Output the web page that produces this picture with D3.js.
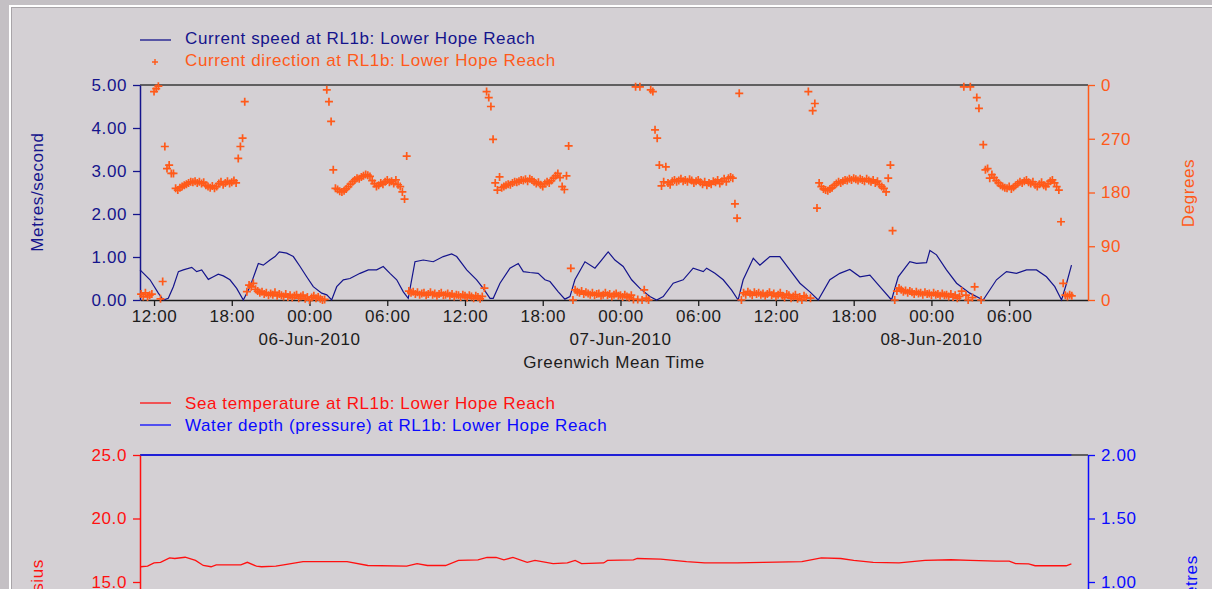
<!DOCTYPE html>
<html>
<head>
<meta charset="utf-8">
<script src="https://cdn.jsdelivr.net/npm/d3@7"></script>
<style>
body { margin: 0; background: #c4c0c4; }
svg text { font-family: "Liberation Sans", Arial, sans-serif; font-size: 17px; letter-spacing: 0.6px; }
</style>
</head>
<body>
<svg id="chart" width="1212" height="589"></svg>
<script>
// all times are hours after 05-Jun-2010 12:00 GMT
var speedHours = [-1.08, -0.31, 0.33, 0.72, 1.10, 1.49, 1.88, 2.26, 2.91, 3.29,
	3.68, 4.19, 4.58, 4.96, 5.35, 5.86, 6.38, 6.89, 7.41, 8.05,
	8.43, 8.95, 9.34, 9.67, 10.24, 10.75, 11.27, 11.78, 12.29, 12.94,
	13.33, 13.71, 14.10, 14.61, 15.12, 15.90, 16.54, 17.18, 17.69, 18.21,
	18.73, 19.24, 19.62, 20.14, 20.78, 21.55, 22.32, 22.97, 23.36, 24.13,
	24.90, 25.41, 25.93, 26.18, 26.70, 27.47, 28.11, 28.50, 29.01, 29.65,
	30.17, 30.56, 31.20, 31.71, 32.10, 32.48, 33.26, 34.03, 34.54, 35.05,
	35.57, 36.21, 36.86, 37.50, 38.27, 38.79, 39.30, 40.07, 40.84, 41.61,
	42.39, 42.65, 43.29, 43.93, 44.58, 45.08, 45.47, 46.25, 46.76, 47.53,
	48.30, 49.07, 49.85, 50.62, 51.26, 52.16, 52.93, 53.70, 54.48, 55.25,
	56.02, 56.92, 57.44, 58.33, 58.85, 59.62, 59.88, 60.39, 61.16, 61.94,
	62.96, 63.99, 65.02, 65.79, 66.56, 67.34, 68.11, 68.88, 69.52, 70.04,
	70.43, 70.81];
var speedValues = [0.70, 0.47, 0.16, 0.00, 0.04, 0.31, 0.66, 0.70, 0.76, 0.66,
	0.70, 0.48, 0.54, 0.60, 0.56, 0.47, 0.27, 0.00, 0.31, 0.85,
	0.81, 0.93, 1.01, 1.12, 1.09, 1.01, 0.78, 0.54, 0.31, 0.16,
	0.12, 0.00, 0.31, 0.47, 0.50, 0.62, 0.70, 0.70, 0.78, 0.62,
	0.47, 0.19, 0.04, 0.89, 0.93, 0.89, 1.01, 1.07, 1.01, 0.70,
	0.47, 0.27, 0.04, 0.04, 0.39, 0.74, 0.85, 0.66, 0.64, 0.62,
	0.47, 0.43, 0.19, 0.02, 0.08, 0.47, 0.89, 0.74, 0.93, 1.12,
	0.93, 0.78, 0.47, 0.27, 0.08, 0.00, 0.08, 0.39, 0.47, 0.74,
	0.66, 0.74, 0.62, 0.47, 0.23, 0.00, 0.47, 0.97, 0.81, 1.01,
	1.01, 0.70, 0.39, 0.19, 0.00, 0.47, 0.62, 0.71, 0.54, 0.58,
	0.31, 0.00, 0.54, 0.89, 0.85, 0.87, 1.15, 1.05, 0.70, 0.39,
	0.16, 0.00, 0.47, 0.66, 0.62, 0.70, 0.70, 0.54, 0.31, 0.00,
	0.39, 0.81];

// direction: one reading every 10 minutes from 05-Jun-2010 11:00 GMT
var dirStartHour = -1;
var dirStepMinutes = 10;
var dirValues = [
	10, 6, 12, 5, 8, 10, 349, 354, 358, 2,
	31, 257, 220, 226, 212, 212,
	187, 184, 188, 190, 192, 194, 196, 198, 197, 199, 196, 198, 195, 197, 192,
	190, 188, 191, 187, 190, 195, 198, 193, 196, 199, 195, 197, 200, 196,
	237, 257, 271, 332,
	14, 25, 22, 28, 18, 15, 12, 14, 10, 12, 8, 11, 9, 13, 7, 10, 8, 6, 10,
	5, 8, 4, 7, 9, 3, 6, 8, 2, 5, 0, 4, 7, 3, 5, 2, 0, 1,
	352, 332, 299, 218,
	187, 185, 182, 181, 183, 186, 190, 194, 198, 201, 204, 203, 206, 208, 210, 209, 207,
	200, 195, 190, 192, 196, 194, 198, 201, 197, 199, 195, 201, 193, 190, 181, 169,
	241,
	15, 12, 14, 10, 13, 9, 11, 12, 8, 10, 13, 9, 11, 7, 10, 12, 8, 9,
	11, 7, 10, 6, 9, 8, 5, 9, 7, 4, 8, 6, 3, 7, 5, 2, 6, 20,
	349, 339, 324, 269,
	196, 184, 206, 188, 190, 192, 194, 193, 196, 198, 197, 199, 201, 200, 202, 199, 203,
	201, 198, 195, 197, 193, 190, 195, 198, 196, 200, 204, 208, 212, 205, 190, 185, 208,
	258, 53, 0,
	17, 14, 12, 15, 10, 13, 11, 9, 12, 8, 10, 11, 7, 9, 12, 8, 10, 6, 9, 11, 7, 8, 5, 9, 6, 4, 8, 1,
	357, 1, 357, 0, 17, 3, 0, 352, 349, 285, 271, 226, 191, 198, 223,
	196, 193, 199, 201, 198, 200, 203, 199, 201, 198, 202, 200, 196, 199, 201, 197,
	194, 198, 192, 196, 194, 199, 197, 201, 195, 199, 203, 198, 204, 206, 204,
	161, 137, 346,
	0, 12, 9, 14, 11, 8, 13, 10, 12, 9, 11, 7, 10, 13, 8, 11,
	6, 9, 12, 7, 4, 10, 8, 3, 6, 9, 2, 5, 0, 7, 4,
	349, 3, 317, 329, 154,
	196, 190, 186, 184, 183, 186, 188, 192, 195, 198, 196, 199, 201, 200, 203, 201, 204,
	202, 200, 203, 201, 199, 203, 200, 198, 201, 196, 199, 193, 190, 187, 181, 204,
	226, 116,
	0, 15, 20, 17, 14, 16, 12, 15, 13, 10, 14, 11, 12, 9, 13, 10,
	11, 8, 12, 9, 10, 7, 11, 8, 9, 6, 10, 5, 8, 3, 6, 15,
	357, 8, 0, 357, 4, 22, 339, 321, 0, 260, 218, 220, 204,
	210, 205, 200, 196, 192, 190, 188, 187, 190, 186, 189, 192, 195, 198, 196, 199,
	201, 197, 195, 198, 193, 190, 194, 197, 192, 190, 195, 199, 201, 196, 190, 184,
	131, 28, 8, 6, 9, 7
];

var tempHours = [-1.05, -0.5, 0.0, 0.5, 1.2, 1.6, 2.4, 3.2, 3.8, 4.4,
	4.8, 6.7, 7.2, 7.9, 8.3, 9.4, 10.0, 11.5, 14.9, 16.5,
	19.5, 20.3, 21.1, 22.5, 23.5, 25.0, 25.7, 26.4, 27.0, 27.7,
	28.8, 29.4, 30.8, 31.9, 32.5, 33.0, 34.7, 35.0, 37.0, 37.3,
	39.1, 41.1, 42.5, 45.0, 47.0, 50.0, 51.5, 53.0, 54.0, 55.5,
	57.5, 59.5, 61.5, 63.0, 65.0, 66.0, 66.5, 67.5, 68.0, 70.4, 70.8];
var tempValues = [16.2, 16.25, 16.5, 16.55, 16.9, 16.85, 16.95, 16.7, 16.3, 16.2,
	16.35, 16.35, 16.55, 16.25, 16.2, 16.25, 16.35, 16.6, 16.6, 16.3,
	16.25, 16.45, 16.3, 16.3, 16.7, 16.75, 16.93, 16.93, 16.75, 16.93,
	16.55, 16.7, 16.45, 16.5, 16.7, 16.45, 16.5, 16.7, 16.75, 16.85,
	16.8, 16.6, 16.5, 16.5, 16.55, 16.6, 16.9, 16.85, 16.7, 16.55,
	16.5, 16.7, 16.75, 16.7, 16.65, 16.65, 16.45, 16.42, 16.28, 16.28, 16.42];

// depth sits at (or above) the top of its axis for the whole period
var depthHours = [-1.05, 70.8];
var depthValues = [2.0, 2.0];

var speedTicks = [0, 1, 2, 3, 4, 5];
var dirTicks = [0, 90, 180, 270, 360];
var tempTicks = [0, 5, 10, 15, 20, 25];
var depthTicks = [0, 0.5, 1, 1.5, 2];

var navy = '#14148c', orange = '#ff5a1a', red = '#ff1010', blue = '#0a0aff', ink = '#1c1c1c';

var base = Date.UTC(2010, 5, 5, 12);
function hourDate(h) { return new Date(base + h * 3600000); }

var svg = d3.select('#chart');

// window frame
svg.append('rect').attr('x', 0).attr('y', 0).attr('width', 1212).attr('height', 589).attr('fill', '#c4c0c4');
svg.append('rect').attr('x', 9).attr('y', 5).attr('width', 1210).attr('height', 600).attr('fill', '#ffffff');
svg.append('rect').attr('x', 11).attr('y', 7).attr('width', 1210).attr('height', 600).attr('fill', '#a8a4a8');
svg.append('rect').attr('x', 12).attr('y', 8).attr('width', 1210).attr('height', 600).attr('fill', '#d4d0d4');

var tStart = Date.UTC(2010, 5, 5, 10, 55), tEnd = Date.UTC(2010, 5, 8, 12, 5);
var x = d3.scaleUtc().domain([tStart, tEnd]).range([140, 1088]);

var ySpeed = d3.scaleLinear().domain([0, 5]).range([300, 85]);
var yDir = d3.scaleLinear().domain([0, 360]).range([300, 85]);
var yTemp = d3.scaleLinear().domain([0, 25]).range([772.5, 455]);
var yDepth = d3.scaleLinear().domain([-0.5, 2]).range([772.5, 455]);

function colourAxis(g, c, textColour) {
	g.select('.domain').attr('stroke', c).attr('stroke-width', 1.5);
	g.selectAll('.tick line').attr('stroke', c).attr('stroke-width', 1.3);
	g.selectAll('.tick text').attr('fill', textColour || c).style('font-size', '17px');
	g.attr('font-family', null).attr('font-size', null);
}

// ---------- top chart ----------
svg.append('line').attr('x1', 140).attr('x2', 1088).attr('y1', 85).attr('y2', 85)
	.attr('stroke', '#3a3a3a').attr('stroke-width', 1.5);

// 6-hourly ticks, the closing 12:00 at the right edge is not labelled
var hourTicks = d3.utcHour.every(6).range(new Date(tStart), new Date(Date.UTC(2010, 5, 8, 11)));

svg.append('g').attr('transform', 'translate(0,300)')
	.call(d3.axisBottom(x).tickValues(hourTicks).tickFormat(d3.utcFormat('%H:%M'))
		.tickSize(6).tickSizeOuter(0).tickPadding(4))
	.call(function(g) { colourAxis(g, ink); });

svg.append('g').selectAll('text')
	.data(d3.utcDay.range(new Date(tStart), new Date(tEnd)))
	.enter().append('text')
	.attr('x', function(d) { return x(d); })
	.attr('y', 345)
	.attr('text-anchor', 'middle')
	.attr('fill', ink)
	.text(d3.utcFormat('%d-%b-%Y'));

svg.append('text').attr('x', 614).attr('y', 368).attr('text-anchor', 'middle')
	.attr('fill', ink).text('Greenwich Mean Time');

svg.append('g').attr('transform', 'translate(140,0)')
	.call(d3.axisLeft(ySpeed).tickValues(speedTicks).tickFormat(d3.format('.2f'))
		.tickSize(7).tickSizeOuter(0).tickPadding(6))
	.call(function(g) { colourAxis(g, navy); });

svg.append('g').attr('transform', 'translate(1088,0)')
	.call(d3.axisRight(yDir).tickValues(dirTicks).tickFormat(function(d) { return d % 360; })
		.tickSize(7).tickSizeOuter(0).tickPadding(6))
	.call(function(g) { colourAxis(g, orange); });

svg.append('text').attr('transform', 'translate(43,192) rotate(-90)')
	.attr('text-anchor', 'middle').attr('fill', navy).text('Metres/second');
svg.append('text').attr('transform', 'translate(1194,193) rotate(-90)')
	.attr('text-anchor', 'middle').attr('fill', orange).text('Degrees');

var speedLine = d3.line()
	.x(function(d) { return x(hourDate(d[0])); })
	.y(function(d) { return ySpeed(d[1]); });

svg.append('path').datum(d3.zip(speedHours, speedValues))
	.attr('d', speedLine)
	.attr('fill', 'none').attr('stroke', navy).attr('stroke-width', 1.2);

svg.append('g').selectAll('path')
	.data(dirValues)
	.enter().append('path')
	.attr('transform', function(d, i) {
		var t = hourDate(dirStartHour + i * dirStepMinutes / 60);
		return 'translate(' + x(t) + ',' + yDir(d) + ')';
	})
	.attr('d', 'M-4,0H4M0,-4V4')
	.attr('stroke', orange).attr('stroke-width', 1.7).attr('fill', 'none');

// legend
svg.append('line').attr('x1', 140).attr('x2', 171).attr('y1', 40).attr('y2', 40)
	.attr('stroke', navy).attr('stroke-width', 1.3);
svg.append('text').attr('x', 185).attr('y', 44).attr('fill', navy)
	.text('Current speed at RL1b: Lower Hope Reach');
svg.append('path').attr('transform', 'translate(155,62)')
	.attr('d', 'M-3,0H3M0,-3V3').attr('stroke', orange).attr('stroke-width', 1.4);
svg.append('text').attr('x', 185).attr('y', 66).attr('fill', orange)
	.text('Current direction at RL1b: Lower Hope Reach');

// ---------- bottom chart ----------
svg.append('line').attr('x1', 140).attr('x2', 1088).attr('y1', 455).attr('y2', 455)
	.attr('stroke', '#3a3a3a').attr('stroke-width', 1.5);

svg.append('g').attr('transform', 'translate(140,0)')
	.call(d3.axisLeft(yTemp).tickValues(tempTicks).tickFormat(d3.format('.1f'))
		.tickSize(7).tickSizeOuter(0).tickPadding(6))
	.call(function(g) { colourAxis(g, red); });

svg.append('g').attr('transform', 'translate(1088,0)')
	.call(d3.axisRight(yDepth).tickValues(depthTicks).tickFormat(d3.format('.2f'))
		.tickSize(7).tickSizeOuter(0).tickPadding(6))
	.call(function(g) { colourAxis(g, blue); });

svg.append('text').attr('transform', 'translate(43,626) rotate(-90)')
	.attr('text-anchor', 'middle').attr('fill', red).text('Degrees Celsius');
svg.append('text').attr('transform', 'translate(1197,583) rotate(-90)')
	.attr('text-anchor', 'middle').attr('fill', blue).text('Metres');

var tempLine = d3.line()
	.x(function(d) { return x(hourDate(d[0])); })
	.y(function(d) { return yTemp(d[1]); });
svg.append('path').datum(d3.zip(tempHours, tempValues))
	.attr('d', tempLine)
	.attr('fill', 'none').attr('stroke', red).attr('stroke-width', 1.3);

var depthLine = d3.line()
	.x(function(d) { return x(hourDate(d[0])); })
	.y(function(d) { return yDepth(d[1]); });
svg.append('path').datum(d3.zip(depthHours, depthValues))
	.attr('d', depthLine)
	.attr('fill', 'none').attr('stroke', blue).attr('stroke-width', 1.5);

svg.append('line').attr('x1', 140).attr('x2', 171).attr('y1', 403).attr('y2', 403)
	.attr('stroke', red).attr('stroke-width', 1.3);
svg.append('text').attr('x', 185).attr('y', 409).attr('fill', red)
	.text('Sea temperature at RL1b: Lower Hope Reach');
svg.append('line').attr('x1', 140).attr('x2', 171).attr('y1', 425).attr('y2', 425)
	.attr('stroke', blue).attr('stroke-width', 1.3);
svg.append('text').attr('x', 185).attr('y', 431).attr('fill', blue)
	.text('Water depth (pressure) at RL1b: Lower Hope Reach');
</script>
</body>
</html>
